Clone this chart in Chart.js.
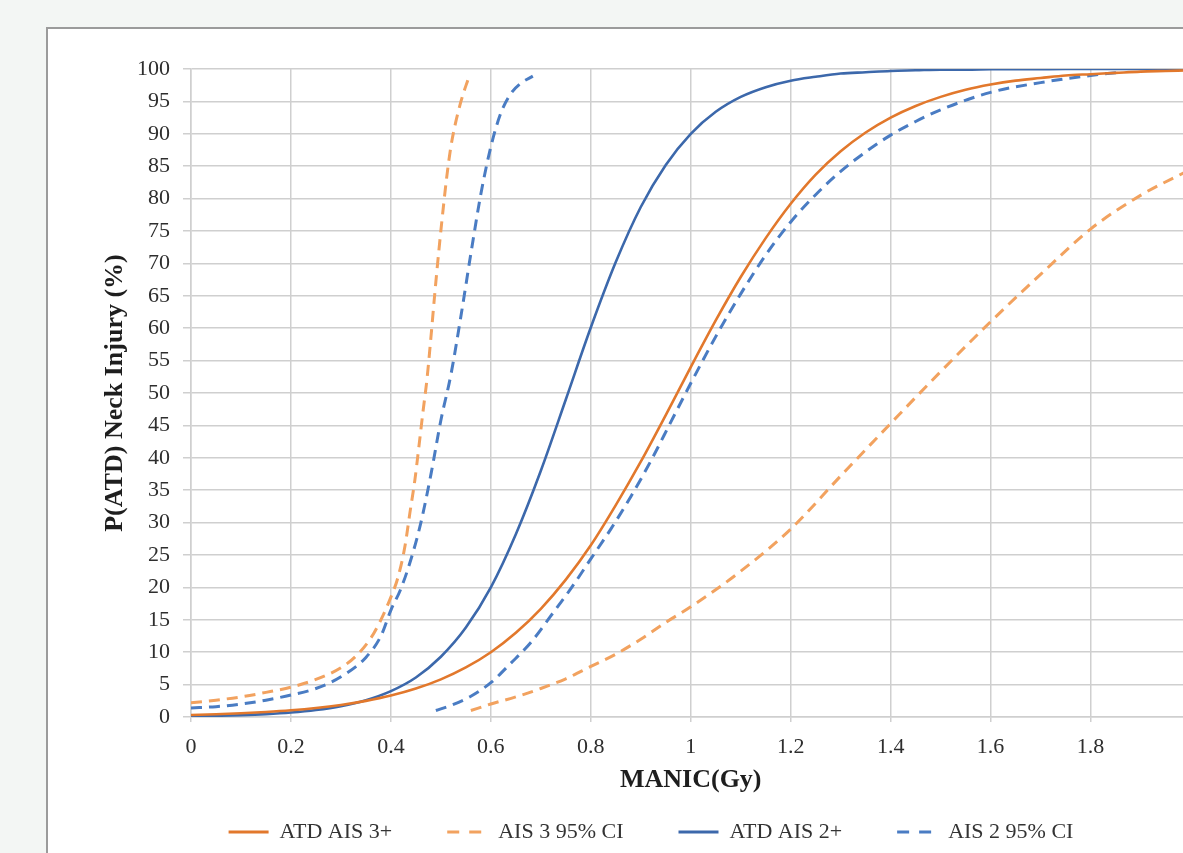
<!DOCTYPE html>
<html>
<head>
<meta charset="utf-8">
<script src="https://cdn.jsdelivr.net/npm/chart.js@4.4.1/dist/chart.umd.min.js"></script>
<style>
    html, body { margin: 0; padding: 0; overflow: hidden; }
    body { width: 1183px; height: 853px; background: #f3f6f4; position: relative; }
    .panel {
        position: absolute; left: 46px; top: 27px; width: 1300px; height: 900px;
        background: #ffffff; border-left: 2px solid #9b9b9b; border-top: 2px solid #9b9b9b;
    }
    .chart-box { position: absolute; left: 47px; top: 28px; width: 1161px; height: 825px; }
</style>
</head>
<body>
<div class="panel"></div>
<div class="chart-box"><canvas id="riskChart"></canvas></div>
<script>
// MANIC (Gy) sample points for the two ATD curves
const manicX = [0, 0.05, 0.1, 0.15, 0.2, 0.25, 0.3, 0.35, 0.4, 0.45, 0.5, 0.55, 0.6, 0.65, 0.7, 0.75,
    0.8, 0.85, 0.9, 0.95, 1.0, 1.05, 1.1, 1.15, 1.2, 1.25, 1.3, 1.35, 1.4, 1.45, 1.5, 1.55, 1.6,
    1.65, 1.7, 1.75, 1.8, 1.85, 1.9, 1.95, 2.0];
const atdAis3 = [0.32, 0.43, 0.58, 0.78, 1.04, 1.39, 1.86, 2.49, 3.31, 4.39, 5.81, 7.65, 10.0, 13.0,
    16.7, 21.2, 26.5, 32.7, 39.4, 46.6, 54.0, 61.2, 67.9, 73.9, 79.2, 83.7, 87.3, 90.2, 92.5, 94.3,
    95.7, 96.8, 97.6, 98.2, 98.6, 99.0, 99.2, 99.4, 99.6, 99.7, 99.8];
const atdAis2 = [0.12, 0.18, 0.28, 0.44, 0.69, 1.08, 1.68, 2.6, 4.0, 6.1, 9.3, 13.8, 20.0, 28.2,
    38.0, 49.0, 60.1, 70.2, 78.7, 85.2, 90.0, 93.4, 95.7, 97.2, 98.2, 98.8, 99.3, 99.5, 99.7, 99.8,
    99.9, 99.9, 99.95, 99.97, 99.98, 99.99, 99.99, 100, 100, 100, 100];

// 95% CI bounds (left = upper probability bound, right = lower bound)
const ais3CiUpperX = [0, 0.05, 0.1, 0.15, 0.2, 0.25, 0.3, 0.33, 0.36, 0.38, 0.4, 0.414, 0.428, 0.438,
    0.448, 0.456, 0.464, 0.472, 0.48, 0.488, 0.496, 0.504, 0.512, 0.52, 0.528, 0.536, 0.544, 0.554];
const ais3CiUpperY = [2.2, 2.6, 3.1, 3.8, 4.6, 5.8, 7.6, 9.4, 12.2, 15.0, 18.5, 21.5, 26.3, 31.5,
    36.6, 41.7, 47.0, 52.0, 58.5, 65.5, 72.0, 78.0, 83.5, 88.0, 91.2, 93.8, 96.0, 98.3];
const ais3CiLowerX = [0.56, 0.6, 0.65, 0.7, 0.75, 0.8, 0.85, 0.9, 0.95, 1.0, 1.1, 1.2, 1.3, 1.4,
    1.5, 1.6, 1.7, 1.8, 1.9, 2.0];
const ais3CiLowerY = [1.0, 2.0, 3.1, 4.4, 5.9, 7.8, 9.7, 12.0, 14.6, 17.0, 22.5, 29.0, 37.2, 45.3,
    53.3, 61.0, 68.3, 75.3, 80.5, 84.5];

const ais2CiUpperX = [0, 0.05, 0.1, 0.15, 0.2, 0.25, 0.3, 0.35, 0.38, 0.4, 0.42, 0.44, 0.46, 0.48,
    0.5, 0.52, 0.54, 0.56, 0.58, 0.6, 0.62, 0.64, 0.66, 0.684];
const ais2CiUpperY = [1.4, 1.6, 2.0, 2.6, 3.4, 4.4, 6.2, 9.2, 12.5, 16.5, 19.8, 24.3, 30.0, 37.4,
    45.8, 52.8, 61.8, 71.5, 80.7, 88.0, 93.2, 96.2, 97.8, 98.9];
const ais2CiLowerX = [0.49, 0.52, 0.56, 0.6, 0.64, 0.68, 0.72, 0.76, 0.8, 0.84, 0.88, 0.92, 0.96,
    1.0, 1.05, 1.1, 1.15, 1.2, 1.25, 1.3, 1.35, 1.4, 1.45, 1.5, 1.6, 1.7, 1.8, 1.86];
const ais2CiLowerY = [1.0, 1.8, 3.2, 5.3, 8.3, 11.5, 15.6, 19.8, 24.4, 29.0, 34.0, 39.5, 45.5, 51.5,
    58.7, 65.3, 71.3, 76.4, 80.6, 84.2, 87.2, 89.8, 91.9, 93.7, 96.4, 97.9, 99.0, 99.5];

const seriesLabels = ['ATD AIS 3+', 'AIS 3 95% CI', 'ATD AIS 2+', 'AIS 2 95% CI'];

const ORANGE = '#e2782c';
const ORANGE_LIGHT = '#f2a25f';
const BLUE = '#3c68ab';
const BLUE_LIGHT = '#4a7cc3';
const GRID = '#cfcfcf';
const SERIF = "'Liberation Serif', 'Times New Roman', serif";

function pts(xs, ys) {
    return xs.map((x, i) => ({ x: x, y: ys[i] }));
}

function lineSet(label, xs, ys, color, dashed) {
    return {
        label: label,
        data: pts(xs, ys),
        borderColor: color,
        backgroundColor: color,
        borderWidth: dashed ? 3 : 2.6,
        borderDash: dashed ? [11, 7] : [],
        pointRadius: 0,
        cubicInterpolationMode: 'monotone',
        fill: false
    };
}

// legend samples: a 40px line, dashed like its dataset
function legendLabels(chart) {
    return chart.data.datasets.slice(0, 4).map((ds, i) => ({
        text: ds.label,
        datasetIndex: i,
        fillStyle: ds.borderColor,
        strokeStyle: ds.borderColor,
        fontColor: '#333333',
        lineWidth: 3,
        lineDash: ds.borderDash.length ? [12, 10] : [],
        pointStyle: 'line',
        hidden: false
    }));
}

const ctx = document.getElementById('riskChart');
new Chart(ctx, {
    type: 'line',
    data: {
        datasets: [
            lineSet(seriesLabels[0], manicX, atdAis3, ORANGE, false),
            lineSet(seriesLabels[1], ais3CiUpperX, ais3CiUpperY, ORANGE_LIGHT, true),
            lineSet(seriesLabels[2], manicX, atdAis2, BLUE, false),
            lineSet(seriesLabels[3], ais2CiUpperX, ais2CiUpperY, BLUE_LIGHT, true),
            lineSet(seriesLabels[1], ais3CiLowerX, ais3CiLowerY, ORANGE_LIGHT, true),
            lineSet(seriesLabels[3], ais2CiLowerX, ais2CiLowerY, BLUE_LIGHT, true)
        ]
    },
    options: {
        responsive: true,
        maintainAspectRatio: false,
        animation: false,
        layout: { padding: { left: 53, top: 41, right: 6, bottom: 0 } },
        scales: {
            x: {
                type: 'linear',
                min: 0,
                max: 2,
                afterFit: function(scale) { scale.height = 49; },
                ticks: {
                    stepSize: 0.2,
                    padding: 12,
                    color: '#2e2e2e',
                    font: { family: SERIF, size: 22 },
                    callback: function(v) { return String(Number(v.toFixed(1))); }
                },
                grid: { color: GRID, lineWidth: 1.5, tickLength: 5 },
                border: { color: GRID, width: 1.5 },
                title: {
                    display: true,
                    text: 'MANIC(Gy)',
                    color: '#1e1e1e',
                    font: { family: SERIF, size: 26, weight: 'bold' },
                    padding: { top: 0, bottom: -30 }
                }
            },
            y: {
                min: 0,
                max: 100,
                afterFit: function(scale) { scale.width = 91; },
                ticks: {
                    stepSize: 5,
                    padding: 13,
                    color: '#2e2e2e',
                    font: { family: SERIF, size: 22 }
                },
                grid: { color: GRID, lineWidth: 1.5, tickLength: 8 },
                border: { color: GRID, width: 1.5 },
                title: {
                    display: true,
                    text: 'P(ATD) Neck Injury (%)',
                    color: '#1e1e1e',
                    font: { family: SERIF, size: 26, weight: 'bold' },
                    padding: { top: 0, bottom: 0 }
                }
            }
        },
        plugins: {
            legend: {
                position: 'bottom',
                labels: {
                    usePointStyle: true,
                    pointStyleWidth: 40,
                    padding: 55,
                    color: '#333333',
                    font: { family: SERIF, size: 22 },
                    generateLabels: legendLabels
                }
            },
            tooltip: { enabled: false }
        }
    }
});
</script>
</body>
</html>
